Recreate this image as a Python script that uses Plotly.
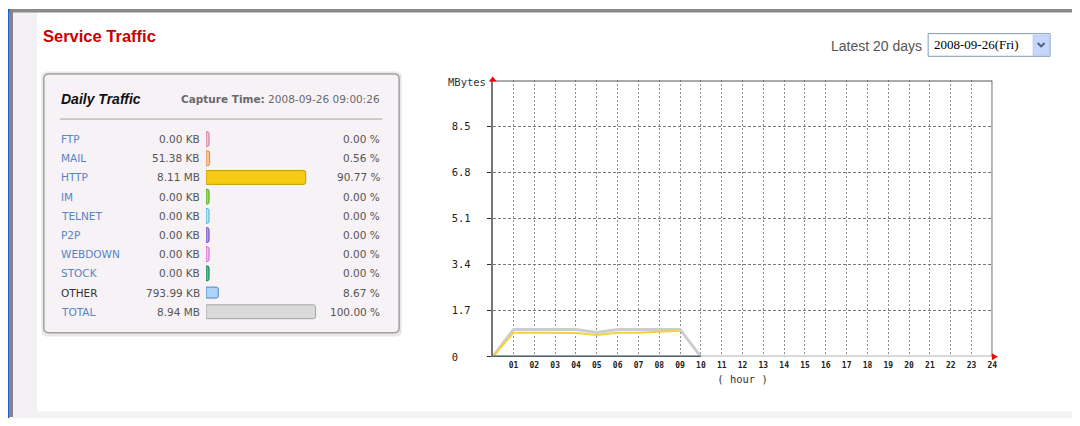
import plotly.graph_objects as go

# The page body keeps its default 8px margin, so the figure is drawn 8px in
# from the window's edges; PAGE coordinates below are window pixels.
OFF = 8
W, H = 1080 - 2 * OFF, 426 - 2 * OFF


def px(x):
    return (x - OFF) / W


def py(y):
    return 1 - (y - OFF) / H


# ---------------- data ----------------
HOURS = [0, 1, 2, 3, 4, 5, 6, 7, 8, 9, 10, 11, 12, 13, 14, 15, 16, 17, 18, 19, 20, 21, 22, 23, 24]
TOTAL_MB = [0, 1.01, 1.01, 1.01, 1.01, 0.90, 1.01, 1.01, 1.01, 1.01, 0,
            0, 0, 0, 0, 0, 0, 0, 0, 0, 0, 0, 0, 0, 0]
HTTP_HOURS = [0, 1, 2, 3, 4, 5, 6, 7, 8, 9]
HTTP_MB = [0, 0.89, 0.89, 0.89, 0.88, 0.81, 0.89, 0.89, 0.92, 0.96]
ZERO_HOURS = [0, 1, 2, 3, 4, 5, 6, 7, 8, 9, 10]
ZERO_MB = [0, 0, 0, 0, 0, 0, 0, 0, 0, 0, 0]
ZERO_SERIES = ["FTP", "IM", "TELNET", "P2P", "WEBDOWN", "STOCK"]
ZERO_COLORS = ["#e8a0b8", "#66cc33", "#88d8f0", "#9966dd", "#ee99ee", "#1c5c30"]

Y_TICKS = [0, 1.7, 3.4, 5.1, 6.8, 8.5]
Y_TICK_TEXT = ["0\u00a0\u00a0", "1.7", "3.4", "5.1", "6.8", "8.5"]
Y_MAX = 10.2
X_MAX = 24
X_TICKS = [1, 2, 3, 4, 5, 6, 7, 8, 9, 10, 11, 12, 13, 14, 15, 16, 17, 18, 19, 20, 21, 22, 23, 24]
X_TICK_TEXT = ["01", "02", "03", "04", "05", "06", "07", "08", "09", "10", "11", "12",
               "13", "14", "15", "16", "17", "18", "19", "20", "21", "22", "23", "24"]

CATEGORIES = ["FTP", "MAIL", "HTTP", "IM", "TELNET", "P2P", "WEBDOWN", "STOCK", "OTHER", "TOTAL"]
AMOUNTS = ["0.00 KB", "51.38 KB", "8.11 MB", "0.00 KB", "0.00 KB", "0.00 KB",
           "0.00 KB", "0.00 KB", "793.99 KB", "8.94 MB"]
PERCENTS = [0.00, 0.56, 90.77, 0.00, 0.00, 0.00, 0.00, 0.00, 8.67, 100.00]
BAR_FILL = ["#f4bccf", "#f8c496", "#f7cb12", "#92e05a", "#ace6f8", "#b496ee",
            "#f4b4f0", "#52c294", "#aed2f8", "#dadada"]
BAR_LINE = ["#d07898", "#d88c48", "#c49c00", "#4ea820", "#4cb0d8", "#6c4cc0",
            "#cc6ccc", "#0e7e4e", "#5484c4", "#a4a4a4"]
BAR_THICK = [0.77, 0.77, 0.72, 0.77, 0.77, 0.77, 0.77, 0.77, 0.57, 0.72]
LABEL_COLORS = ["#5585c4"] * 8 + ["#333333", "#5585c4"]

ROW_TOP, ROW_STEP = 131.3, 19.47
ROWS = list(range(len(CATEGORIES)))

fig = go.Figure()

# ---------------- hourly traffic chart ----------------
fig.add_trace(go.Scatter(x=HOURS, y=TOTAL_MB, mode="lines", name="TOTAL",
                         line=dict(color="#cdcdcd", width=3), hoverinfo="skip",
                         xaxis="x", yaxis="y", cliponaxis=False))
fig.add_trace(go.Scatter(x=HTTP_HOURS, y=HTTP_MB, mode="lines", name="HTTP",
                         line=dict(color="#f2d23e", width=2), hoverinfo="skip",
                         xaxis="x", yaxis="y", cliponaxis=False))
for name, col in zip(ZERO_SERIES, ZERO_COLORS):
    fig.add_trace(go.Scatter(x=ZERO_HOURS, y=ZERO_MB, mode="lines", name=name,
                             line=dict(color=col, width=2), hoverinfo="skip",
                             xaxis="x", yaxis="y", cliponaxis=False))

# ---------------- daily traffic mini bars ----------------
BAR_LEN = [3 + p * 1.07 for p in PERCENTS]
fig.add_trace(go.Bar(x=BAR_LEN, y=ROWS, orientation="h", width=BAR_THICK,
                     marker=dict(color=BAR_FILL, line=dict(color=BAR_LINE, width=1),
                                 cornerradius=2),
                     hoverinfo="skip", xaxis="x2", yaxis="y2"))

shapes = []
# page frame
shapes.append(dict(type="rect", xref="paper", yref="paper", x0=px(13), x1=px(37), y0=py(426), y1=py(12),
                   fillcolor="#f4f1f4", line=dict(width=0), layer="below"))
shapes.append(dict(type="rect", xref="paper", yref="paper", x0=px(13), x1=px(1080), y0=py(426), y1=py(417.5),
                   fillcolor="#f4f1f4", line=dict(width=0), layer="below"))
shapes.append(dict(type="rect", xref="paper", yref="paper", x0=px(9), x1=px(1080), y0=py(12.5), y1=py(9),
                   fillcolor="#8a8a8a", line=dict(width=0), layer="below"))
shapes.append(dict(type="rect", xref="paper", yref="paper", x0=px(9.6), x1=px(13), y0=py(423), y1=py(9),
                   fillcolor="#858585", line=dict(width=0), layer="below"))
shapes.append(dict(type="rect", xref="paper", yref="paper", x0=px(8), x1=px(9.6), y0=py(426), y1=py(9),
                   fillcolor="#1b5ee0", line=dict(width=0), layer="below"))


def rounded(x0, y0, x1, y1, r):
    return (f"M {px(x0 + r)} {py(y0)} L {px(x1 - r)} {py(y0)} Q {px(x1)} {py(y0)} {px(x1)} {py(y0 + r)} "
            f"L {px(x1)} {py(y1 - r)} Q {px(x1)} {py(y1)} {px(x1 - r)} {py(y1)} "
            f"L {px(x0 + r)} {py(y1)} Q {px(x0)} {py(y1)} {px(x0)} {py(y1 - r)} "
            f"L {px(x0)} {py(y0 + r)} Q {px(x0)} {py(y0)} {px(x0 + r)} {py(y0)} Z")


# daily traffic panel
shapes.append(dict(type="path", xref="paper", yref="paper", path=rounded(41.5, 72.5, 403.5, 341.5, 6),
                   fillcolor="#e9e7e9", line=dict(width=0), layer="below"))
shapes.append(dict(type="path", xref="paper", yref="paper", path=rounded(44, 75, 401, 337.5, 5),
                   fillcolor="#f6f2f6", line=dict(color="#a2a2a2", width=1.5), layer="below"))
shapes.append(dict(type="line", xref="paper", yref="paper", x0=px(60), x1=px(384), y0=py(120.7), y1=py(120.7),
                   line=dict(color="#aaa390", width=1), layer="below"))

# dropdown
shapes.append(dict(type="rect", xref="paper", yref="paper", x0=px(932.5), x1=px(1055), y0=py(57), y1=py(34),
                   fillcolor="#ffffff", line=dict(color="#7f9db9", width=1)))
shapes.append(dict(type="rect", xref="paper", yref="paper", x0=px(1038), x1=px(1054), y0=py(56), y1=py(35.5),
                   fillcolor="#c6d7fb", line=dict(color="#b6c8f4", width=1)))
shapes.append(dict(type="path", xref="paper", yref="paper",
                   path=f"M {px(1042.5)} {py(43.5)} L {px(1046)} {py(47)} L {px(1049.5)} {py(43.5)}",
                   line=dict(color="#4d6185", width=2)))

# chart frame lines (top and right) and arrows
shapes.append(dict(type="line", xref="x", yref="y", x0=0, x1=X_MAX, y0=Y_MAX, y1=Y_MAX,
                   line=dict(color="#5a5a5a", width=2)))
shapes.append(dict(type="line", xref="x", yref="y", x0=X_MAX, x1=X_MAX, y0=0, y1=Y_MAX,
                   line=dict(color="#444444", width=1.5)))
shapes.append(dict(type="path", xref="paper", yref="paper",
                   path=f"M {px(491)} {py(82.5)} L {px(495)} {py(77.5)} L {px(499)} {py(82.5)} Z",
                   fillcolor="#ff0000", line=dict(width=0)))
shapes.append(dict(type="path", xref="paper", yref="paper",
                   path=f"M {px(996.5)} {py(358.5)} L {px(1002.5)} {py(362)} L {px(996.5)} {py(365.5)} Z",
                   fillcolor="#ff0000", line=dict(width=0)))

PANEL_FONT = "DejaVu Sans"
MONO = "DejaVu Sans Mono"
ann = []
ann.append(dict(text="<b>Service Traffic</b>", x=px(41), y=py(36), xanchor="left", yanchor="middle",
                font=dict(family="Liberation Sans, Arial", size=16.5, color="#cc0000")))
ann.append(dict(text="Latest 20 days", x=px(928), y=py(47), xanchor="right", yanchor="middle",
                font=dict(family="Liberation Sans, Arial", size=14, color="#555555")))
ann.append(dict(text="2008-09-26(Fri)", x=px(936), y=py(45.5), xanchor="left", yanchor="middle",
                font=dict(family="Liberation Serif", size=13, color="#000000")))
ann.append(dict(text="<b><i>Daily Traffic</i></b>", x=px(59.5), y=py(100), xanchor="left", yanchor="middle",
                font=dict(family="Liberation Sans, Arial", size=14, color="#111111")))
ann.append(dict(text="<b>Capture Time:</b> 2008-09-26 09:00:26", x=px(384), y=py(100), xanchor="right",
                yanchor="middle", font=dict(family=PANEL_FONT, size=10.5, color="#6a6a6a")))
for i, (cat, amt, pct) in enumerate(zip(CATEGORIES, AMOUNTS, PERCENTS)):
    yc = ROW_TOP + ROW_STEP * (i + 0.5)
    ann.append(dict(text=cat, x=px(59), y=py(yc), xanchor="left", yanchor="middle",
                    font=dict(family=PANEL_FONT, size=10.5, color=LABEL_COLORS[i])))
    ann.append(dict(text=amt, x=px(202.5), y=py(yc), xanchor="right", yanchor="middle",
                    font=dict(family=PANEL_FONT, size=10.5, color="#555555")))
    ann.append(dict(text=f"{pct:.2f} %", x=px(384), y=py(yc), xanchor="right", yanchor="middle",
                    font=dict(family=PANEL_FONT, size=10.5, color="#555555")))
ann.append(dict(text="MBytes", x=px(490), y=py(83), xanchor="right", yanchor="middle",
                font=dict(family=MONO, size=10.5, color="#333333")))
for a in ann:
    a.update(xref="paper", yref="paper", showarrow=False)

fig.update_layout(
    width=W, height=H, margin=dict(l=0, r=0, t=0, b=0, pad=0),
    paper_bgcolor="#ffffff", plot_bgcolor="rgba(0,0,0,0)",
    showlegend=False, shapes=shapes, annotations=ann,
    xaxis=dict(domain=[px(495), px(997)], range=[0, X_MAX], tickvals=X_TICKS, ticktext=X_TICK_TEXT,
               showgrid=True, gridcolor="#8c8c8c", griddash="2px,2px", gridwidth=1,
               showline=False, zeroline=False, ticks="", ticklabelstandoff=2,
               tickfont=dict(family=MONO, size=8, color="#222222", weight="bold"),
               title=dict(text="( hour )", standoff=6, font=dict(family=MONO, size=10.5, color="#333333")),
               fixedrange=True),
    yaxis=dict(domain=[py(362), py(81.5)], range=[0, Y_MAX], tickvals=Y_TICKS, ticktext=Y_TICK_TEXT,
               showgrid=True, gridcolor="#7a7a7a", griddash="3px,2px", gridwidth=1,
               showline=True, linecolor="#777777", linewidth=2, zeroline=False,
               ticks="outside", ticklen=4, tickcolor="#333333", ticklabelstandoff=14,
               tickfont=dict(family=MONO, size=10.5, color="#222222"), fixedrange=True),
    xaxis2=dict(domain=[px(207), px(320)], range=[0, 113], visible=False, fixedrange=True),
    yaxis2=dict(domain=[py(ROW_TOP + ROW_STEP * 10), py(ROW_TOP)], range=[9.5, -0.5], visible=False,
                fixedrange=True),
)

fig.write_html("out.html", config={"displayModeBar": False})
